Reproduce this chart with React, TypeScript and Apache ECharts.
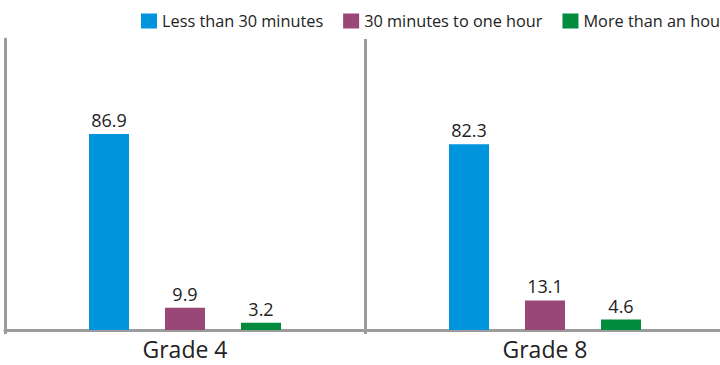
import React, { useEffect, useRef } from "react";
import * as echarts from "echarts";

const grades = ["Grade 4", "Grade 8"];
const seriesNames = ["Less than 30 minutes", "30 minutes to one hour", "More than an hour"];
const lessThan30 = [86.9, 82.3];
const thirtyToHour = [9.9, 13.1];
const moreThanHour = [3.2, 4.6];
const colors = ["#0094DD", "#984776", "#008C3C"];

const FONT = "Open Sans";

export default function App() {
  const ref = useRef<HTMLDivElement>(null);

  useEffect(() => {
    document.body.style.margin = "0";
    document.body.style.overflow = "hidden";
    const chart = echarts.init(ref.current!, null, { renderer: "svg" });
    const values = [lessThan30, thirtyToHour, moreThanHour];
    chart.setOption({
      animation: false,
      textStyle: { fontFamily: FONT },
      legend: {
        left: 141,
        top: 13,
        padding: 0,
        width: 760,
        itemWidth: 16,
        itemHeight: 15,
        itemGap: 20,
        icon: "rect",
        textStyle: { fontFamily: FONT, fontSize: 16.3, color: "#222" },
        data: seriesNames,
      },
      grid: { left: 5, right: 7, top: 39, bottom: 35 },
      xAxis: {
        type: "category",
        data: grades,
        axisLine: { lineStyle: { color: "#9C9C9C", width: 3 } },
        axisTick: { show: true, length: 4, lineStyle: { color: "#9C9C9C", width: 3 } },
        splitLine: { show: true, lineStyle: { color: "#9C9C9C", width: 3 } },
        axisLabel: { fontFamily: FONT, fontSize: 23, lineHeight: 22, color: "#222", margin: 8 },
      },
      yAxis: {
        type: "value",
        min: 0,
        max: 129,
        axisLine: { show: true, lineStyle: { color: "#9C9C9C", width: 3 } },
        axisTick: { show: false },
        axisLabel: { show: false },
        splitLine: { show: false },
      },
      series: seriesNames.map((name, i) => ({
        name,
        type: "bar",
        data: values[i],
        barWidth: 40,
        barGap: "90%",
        itemStyle: { color: colors[i] },
        label: {
          show: true,
          position: "top",
          distance: 5,
          fontFamily: FONT,
          fontSize: 18,
          color: "#222",
          formatter: (p: any) => p.value.toFixed(1),
        },
      })),
    });
    return () => chart.dispose();
  }, []);

  return <div ref={ref} style={{ width: 732, height: 365 }} />;
}
